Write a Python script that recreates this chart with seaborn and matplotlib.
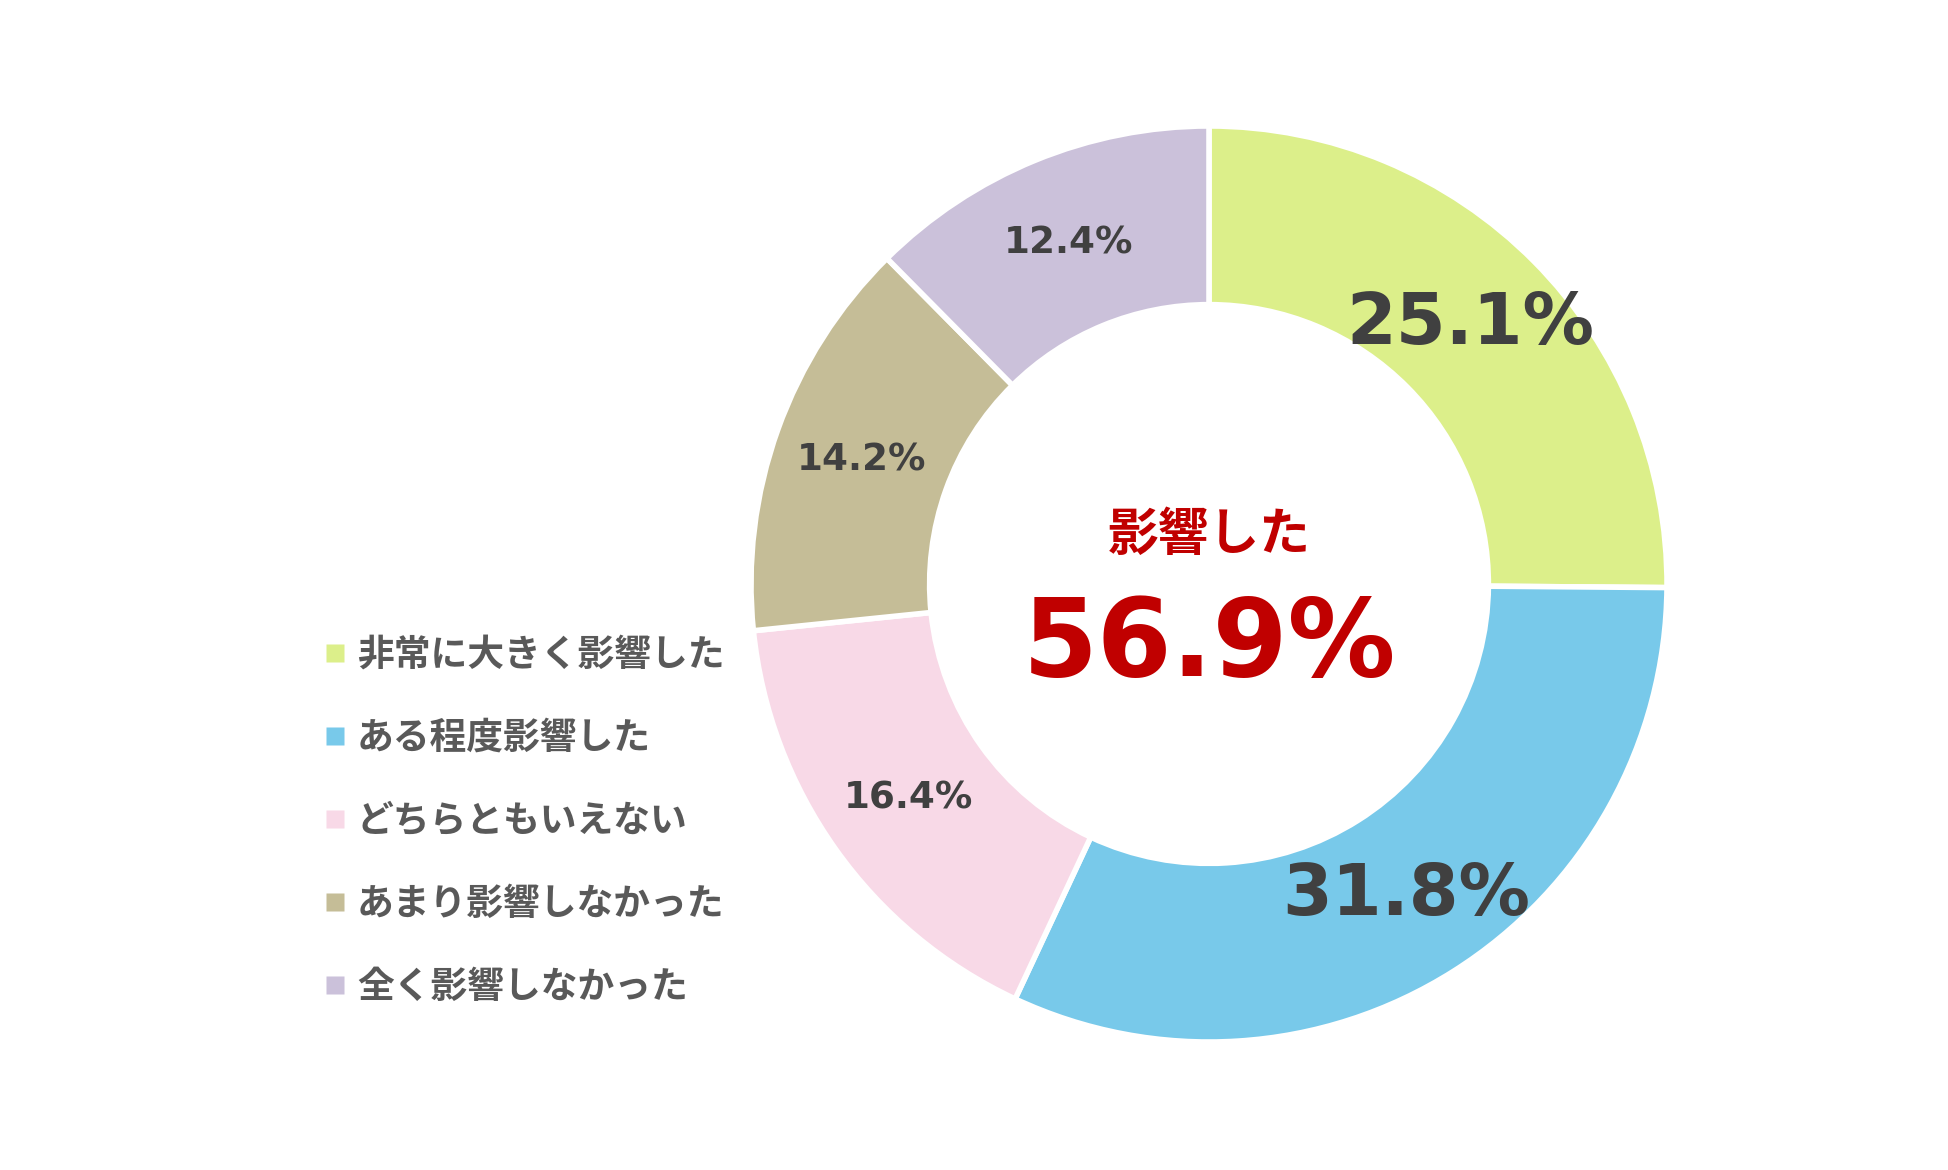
import matplotlib
matplotlib.use("Agg")
import matplotlib.pyplot as plt
import seaborn as sns
from matplotlib.lines import Line2D

categories = ["非常に大きく影響した", "ある程度影響した", "どちらともいえない", "あまり影響しなかった", "全く影響しなかった"]
values = [25.1, 31.8, 16.4, 14.2, 12.4]
colors = ["#DCEF8A", "#78C9EA", "#F8D9E7", "#C5BD97", "#CBC1DA"]
center_title = "影響した"
center_value = "56.9%"

sns.set_theme(style="white")
plt.rcParams['font.family'] = ['Noto Sans CJK JP', 'DejaVu Sans']

W, H = 1949, 1170
fig = plt.figure(figsize=(W / 100, H / 100), dpi=100)
fig.patch.set_facecolor("white")

cx, cy, R = 1209, 584, 458
ax = fig.add_axes([(cx - R) / W, (H - cy - R) / H, 2 * R / W, 2 * R / H])
palette = sns.color_palette(colors)

wedges, texts, autotexts = ax.pie(
    values, colors=palette, startangle=90, counterclock=False,
    radius=1.0, wedgeprops=dict(width=0.39, edgecolor="white", linewidth=4),
    autopct=lambda p: "", pctdistance=0.805,
)
for i, (t, v) in enumerate(zip(autotexts, values)):
    t.set_text(f"{v:.1f}%")
    t.set_family("DejaVu Sans")
    t.set_fontweight("bold")
    t.set_color("#404040")
    t.set_fontsize(51.5 if v > 20 else 26.8)
ax.set_xlim(-1, 1)
ax.set_ylim(-1, 1)
ax.set_aspect("equal")
ax.axis("off")

ax.text(0, (cy - 535) / R, center_title, ha="center", va="center",
        fontsize=36.5, fontweight="bold", color="#C00000", family="Noto Sans CJK JP")
ax.text(0, (cy - 646) / R, center_value, ha="center", va="center",
        fontsize=77.5, fontweight="bold", color="#C00000", family="DejaVu Sans")

handles = [Line2D([0], [0], marker="s", linestyle="none", markersize=13,
                  markerfacecolor=c, markeredgecolor="none") for c in colors]
leg = fig.legend(handles, categories, loc="center left",
                 bbox_to_anchor=(309 / W, 1 - 821 / H), frameon=False,
                 prop=dict(family="Noto Sans CJK JP", weight="bold", size=26.5),
                 labelcolor="#595959", handlelength=0.6, handletextpad=0.3,
                 labelspacing=1.25, borderaxespad=0)

fig.savefig("out.png", dpi=100, facecolor="white")
